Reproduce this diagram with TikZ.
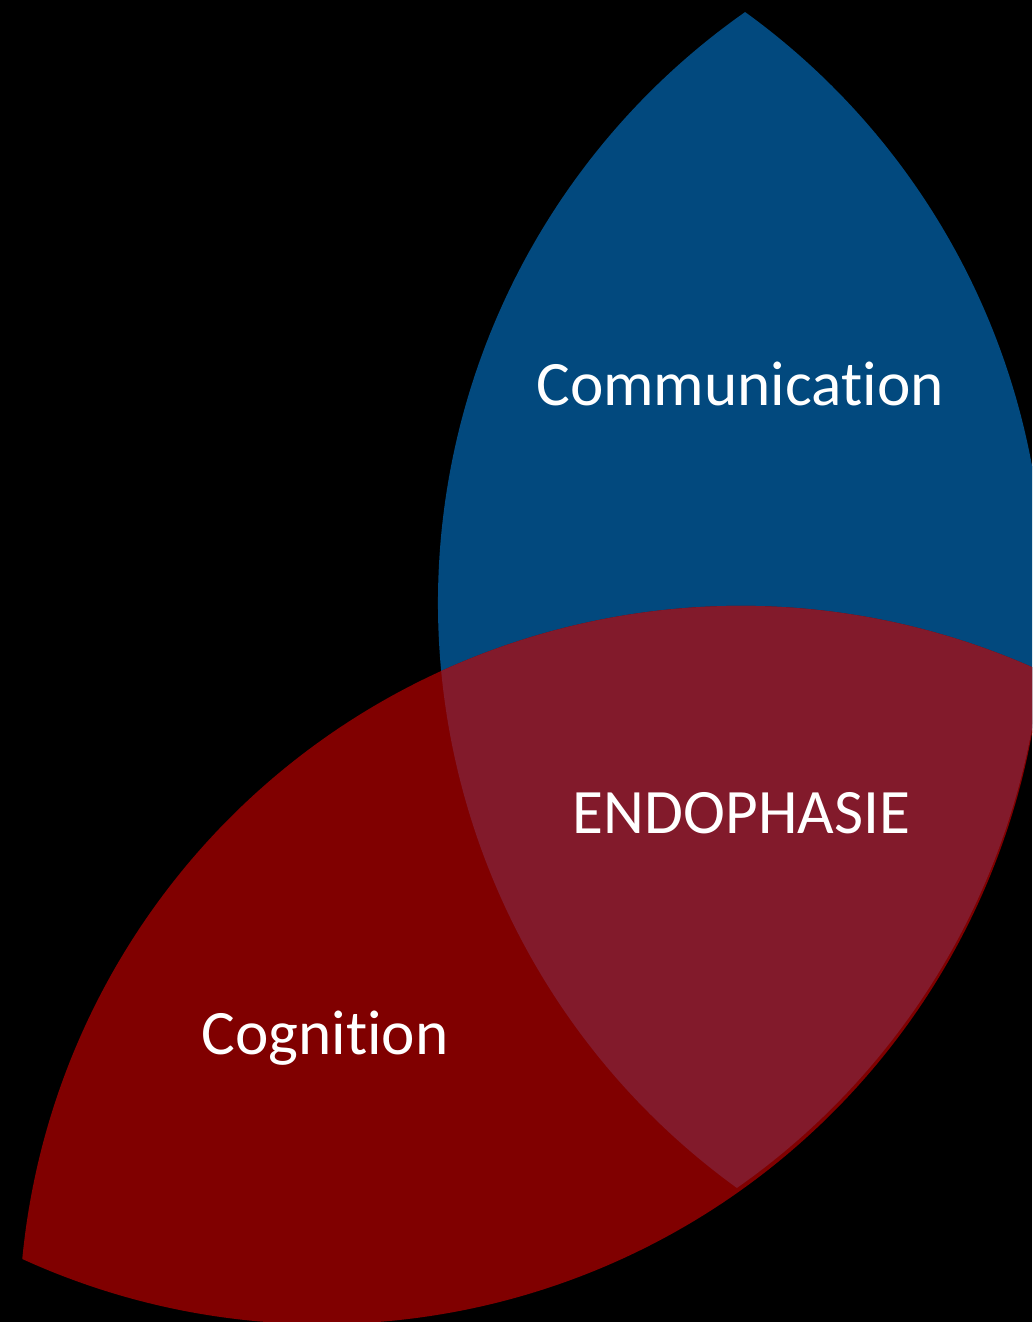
\documentclass[tikz,border=0pt]{standalone}
\usepackage{fontspec}
\setmainfont{Carlito}[Ligatures=NoCommon]
\definecolor{commblue}{RGB}{2,73,126}
\definecolor{cogred}{RGB}{128,0,0}
\definecolor{endored}{RGB}{130,26,43}
% one leaf: two arcs of radius 7.22 meeting at (-5.88,0) and (5.88,0)
\newcommand{\leafpath}{(-5.88,0) arc[start angle=144.53,end angle=35.47,radius=7.22]
  arc[start angle=-35.47,end angle=-144.53,radius=7.22] -- cycle}
\tikzset{
  lbl/.style={text=white,font=\fontsize{18}{21}\selectfont,anchor=base,inner sep=0pt},
  commleaf/.style={shift={(7.41,7.22)},rotate=89.6},
  cogleaf/.style={shift={(5.315,3.57)},rotate=30}
}

\begin{document}
\begin{tikzpicture}
    \fill[black] (0,0) rectangle (10.32,13.22);
    \useasboundingbox (0,0) rectangle (10.32,13.22);
    \clip (0,0) rectangle (10.32,13.22);
    \fill[commblue,commleaf] \leafpath;
    \fill[cogred,cogleaf] \leafpath;
    \begin{scope}
      \clip[commleaf] \leafpath;
      \fill[endored,cogleaf] \leafpath;
    \end{scope}
    \node[lbl] (comm) at (7.40,9.16) {Communication};
    \node[lbl] (endo) at (7.415,4.88) {ENDOPHASIE};
    \node[lbl] (cogn) at (3.25,2.67) {Cognition};
\end{tikzpicture}
\end{document}
